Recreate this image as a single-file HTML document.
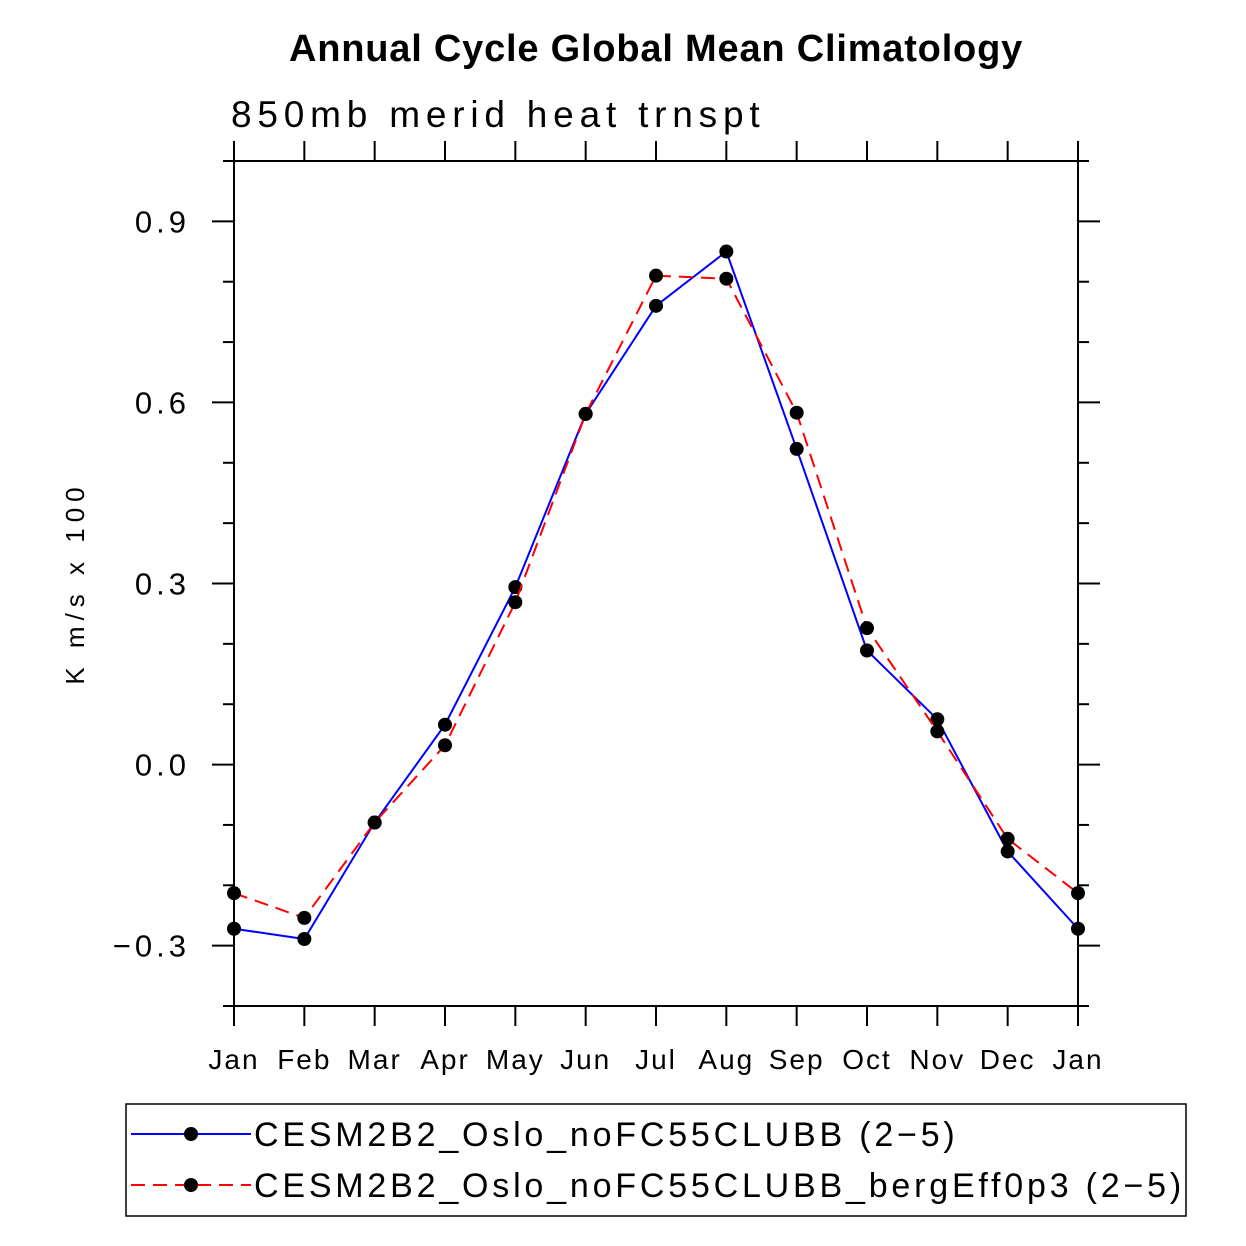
<!DOCTYPE html>
<html><head><meta charset="utf-8"><style>
body{margin:0;background:#fff;}
svg{display:block;font-family:"Liberation Sans",sans-serif;}
</style></head><body>
<svg id="chart" width="1246" height="1246" viewBox="0 0 1246 1246">
<text x="656" y="61" text-anchor="middle" font-size="38" font-weight="bold" letter-spacing="0.8">Annual Cycle Global Mean Climatology</text>
<text x="231" y="127" font-size="37" font-weight="300" letter-spacing="5.8">850mb merid heat trnspt</text>
<text transform="translate(84,583) rotate(-90)" text-anchor="middle" font-size="26" letter-spacing="6">K m/s x 100</text>
<g id="axes"></g>
<g id="series"></g>
<rect x="126" y="1104" width="1060" height="112" fill="none" stroke="#000" stroke-width="1.5"/>
<g>
<line x1="131" y1="1134" x2="251" y2="1134" stroke="#00f" stroke-width="2"/>
<circle cx="191" cy="1134" r="7"/>
<text x="254" y="1146" font-size="34" letter-spacing="3.8">CESM2B2_Oslo_noFC55CLUBB (2−5)</text>
</g>
<g>
<line x1="131" y1="1185" x2="251" y2="1185" stroke="#f00" stroke-width="2" stroke-dasharray="14,8"/>
<circle cx="191" cy="1185" r="7"/>
<text x="254" y="1197" font-size="34" letter-spacing="3.8">CESM2B2_Oslo_noFC55CLUBB_bergEff0p3 (2−5)</text>
</g>
</svg>
<script>
const months=["Jan","Feb","Mar","Apr","May","Jun","Jul","Aug","Sep","Oct","Nov","Dec","Jan"];
const blueVals=[-0.272,-0.289,-0.096,0.066,0.294,0.581,0.760,0.850,0.523,0.189,0.075,-0.144,-0.272];
const redVals=[-0.213,-0.254,-0.096,0.032,0.269,0.581,0.810,0.805,0.583,0.226,0.055,-0.123,-0.213];
const yTicks=[-0.3,0.0,0.3,0.6,0.9];
const yTickLabels=["−0.3","0.0","0.3","0.6","0.9"];
const L=234,R=1078,T=161,B=1006,yMin=-0.4,yMax=1.0;
const X=i=>L+(R-L)*i/(months.length-1);
const Y=v=>B-(v-yMin)/(yMax-yMin)*(B-T);
const NS="http://www.w3.org/2000/svg";
function mk(p,tag,attrs){const e=document.createElementNS(NS,tag);for(const k in attrs)e.setAttribute(k,attrs[k]);p.appendChild(e);return e;}
const ax=document.getElementById('axes');
const frame=mk(ax,'rect',{x:L,y:T,width:R-L,height:B-T,fill:'none',stroke:'#000','stroke-width':2});


months.forEach((m,i)=>{
  const x=X(i);
  mk(ax,'line',{x1:x,y1:B,x2:x,y2:B+20,stroke:'#000','stroke-width':2});
  mk(ax,'line',{x1:x,y1:T,x2:x,y2:T-20,stroke:'#000','stroke-width':2});
  const t=mk(ax,'text',{x:x,y:1069,'text-anchor':'middle','font-size':28,'letter-spacing':2});
  t.textContent=m;
  
  
});
for(let k=0;k<=14;k++){
  const v=yMin+k*0.1;const y=Y(v);
  const major=yTicks.some(t=>Math.abs(t-v)<1e-6);
  const len=major?22:11;
  mk(ax,'line',{x1:R,y1:y,x2:R+len,y2:y,stroke:'#000','stroke-width':2});
  mk(ax,'line',{x1:L,y1:y,x2:L-len,y2:y,stroke:'#000','stroke-width':2});
}
yTicks.forEach((v,i)=>{
  const t=mk(ax,'text',{x:190,y:Y(v)+11,'text-anchor':'end','font-size':31,'letter-spacing':4});
  t.textContent=yTickLabels[i];
  
  
});
const sg=document.getElementById('series');
function draw(vals,color,dash,name){
  const g=mk(sg,'g',{});
  
  
  const pts=vals.map((v,i)=>X(i)+','+Y(v)).join(' ');
  const a={points:pts,fill:'none',stroke:color,'stroke-width':2};
  if(dash)a['stroke-dasharray']=dash;
  mk(g,'polyline',a);
  vals.forEach((v,i)=>{
    const c=mk(g,'circle',{cx:X(i),cy:Y(v),r:7,fill:'#000'});
    
    
  });
}
draw(blueVals,'#00f',null,'series-noFC55CLUBB');
draw(redVals,'#f00','14,8','series-bergEff0p3');
</script>
</body></html>
